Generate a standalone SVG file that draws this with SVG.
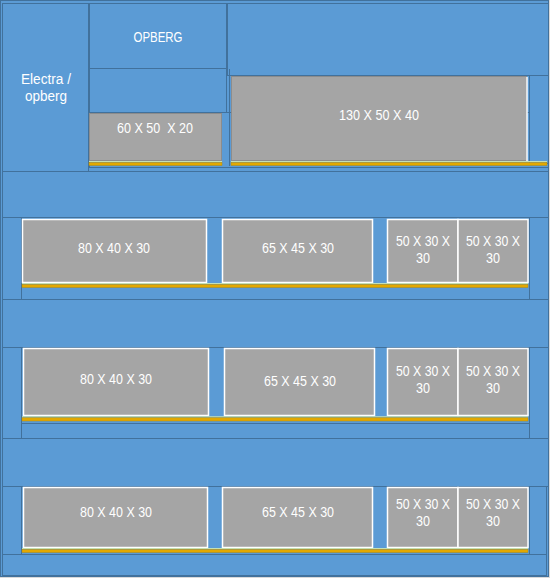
<svg xmlns="http://www.w3.org/2000/svg" width="550" height="578" viewBox="0 0 550 578">
<style>
.b{fill:#5B9BD5;stroke:#41719C;stroke-width:1}
.g{fill:#A5A5A5;stroke:#FFFFFF;stroke-width:1.5}
.gt{fill:#A5A5A5;stroke:#8C8C8C;stroke-width:1}
.gr{stroke:#C5E0B4;stroke-width:1.2;fill:none}
.y{fill:#E3A800;stroke:#B08A10;stroke-width:0.5}
.ln{stroke:#41719C;stroke-width:1;fill:none}
text{font-family:"Liberation Sans",Arial,sans-serif;font-size:14px;fill:#FFFFFF;text-anchor:middle;white-space:pre}
</style>
<rect x="0" y="0" width="550" height="578" fill="#D9D9D9"/>
<rect class="b" x="0.5" y="0.5" width="548" height="576"/>

<g id="top">
  <g id="electra"><rect class="b" x="2.5" y="3.5" width="86" height="168"/>
    <text x="46" y="84" textLength="50" lengthAdjust="spacingAndGlyphs">Electra /</text>
    <text x="46" y="101" textLength="42" lengthAdjust="spacingAndGlyphs">opberg</text></g>
  <g id="opberg"><rect class="b" x="89.5" y="3.5" width="137" height="65"/>
    <text x="158" y="42" textLength="49" lengthAdjust="spacingAndGlyphs">OPBERG</text></g>
  <rect class="b" x="89.5" y="68.5" width="137" height="44"/>
  <rect class="b" x="227.5" y="3.5" width="321" height="72"/>
  <rect class="b" x="89.5" y="112.5" width="459" height="55"/>
  <line class="ln" x1="229.5" y1="69" x2="229.5" y2="166"/>
  <rect class="b" x="529.5" y="75.5" width="19" height="88"/>
  <g id="box-60"><rect class="gt" x="89.5" y="113.5" width="132" height="47"/>
    <text x="155" y="133" textLength="76" lengthAdjust="spacingAndGlyphs" xml:space="preserve">60 X 50  X 20</text></g>
  <g id="box-130"><rect class="gt" x="231.5" y="76.5" width="295" height="84"/>
    <line x1="527" y1="77" x2="527" y2="161" stroke="#fff" stroke-width="1.5"/>
    <text x="379" y="120" textLength="80" lengthAdjust="spacingAndGlyphs">130 X 50 X 40</text></g>
  <line class="gr" x1="89" y1="161.6" x2="222" y2="161.6"/>
  <rect class="y" x="89" y="162.5" width="133" height="3"/>
  <line class="gr" x1="231" y1="161.6" x2="547" y2="161.6"/>
  <rect class="y" x="231" y="162.5" width="316" height="3"/>
</g>

<g id="row1">
  <rect class="b" x="2.5" y="171.5" width="546" height="46"/>
  <rect class="b" x="2.5" y="217.5" width="19" height="82"/>
  <rect class="b" x="21.5" y="217.5" width="508" height="82"/>
  <rect class="b" x="529.5" y="217.5" width="19" height="82"/>
  <g id="r1-80"><rect class="g" x="22.5" y="219.5" width="184" height="63"/>
    <text x="114" y="253" textLength="72" lengthAdjust="spacingAndGlyphs">80 X 40 X 30</text></g>
  <g id="r1-65"><rect class="g" x="222.5" y="219.5" width="150" height="63"/>
    <text x="298" y="253" textLength="72" lengthAdjust="spacingAndGlyphs">65 X 45 X 30</text></g>
  <g id="r1-50a"><rect class="g" x="387.5" y="219.5" width="70.5" height="63"/>
    <text x="423" y="246" textLength="54" lengthAdjust="spacingAndGlyphs">50 X 30 X</text>
    <text x="423" y="263" textLength="14" lengthAdjust="spacingAndGlyphs">30</text></g>
  <g id="r1-50b"><rect class="g" x="458" y="219.5" width="70" height="63"/>
    <text x="493" y="246" textLength="54" lengthAdjust="spacingAndGlyphs">50 X 30 X</text>
    <text x="493" y="263" textLength="14" lengthAdjust="spacingAndGlyphs">30</text></g>
  <line class="gr" x1="22" y1="283.6" x2="528" y2="283.6"/>
  <rect class="y" x="22" y="284.5" width="506" height="3"/>
</g>

<g id="row2">
  <rect class="b" x="2.5" y="299.5" width="546" height="48"/>
  <rect class="b" x="2.5" y="347.5" width="19" height="91"/>
  <rect class="b" x="21.5" y="347.5" width="508" height="76"/>
  <rect class="b" x="529.5" y="347.5" width="19" height="91"/>
  <g id="r2-80"><rect class="g" x="23.5" y="348.5" width="185" height="67"/>
    <text x="116" y="384" textLength="72" lengthAdjust="spacingAndGlyphs">80 X 40 X 30</text></g>
  <g id="r2-65"><rect class="g" x="224.5" y="348.5" width="150" height="67"/>
    <text x="300" y="386" textLength="72" lengthAdjust="spacingAndGlyphs">65 X 45 X 30</text></g>
  <g id="r2-50a"><rect class="g" x="387.5" y="348.5" width="70.5" height="67"/>
    <text x="423" y="376" textLength="54" lengthAdjust="spacingAndGlyphs">50 X 30 X</text>
    <text x="423" y="393" textLength="14" lengthAdjust="spacingAndGlyphs">30</text></g>
  <g id="r2-50b"><rect class="g" x="458" y="348.5" width="70" height="67"/>
    <text x="493" y="376" textLength="54" lengthAdjust="spacingAndGlyphs">50 X 30 X</text>
    <text x="493" y="393" textLength="14" lengthAdjust="spacingAndGlyphs">30</text></g>
  <line class="gr" x1="22" y1="416.8" x2="528" y2="416.8"/>
  <rect class="y" x="22" y="417.8" width="506" height="3.2"/>
</g>

<g id="row3">
  <rect class="b" x="2.5" y="438.5" width="546" height="48"/>
  <rect class="b" x="2.5" y="486.5" width="19" height="68"/>
  <rect class="b" x="21.5" y="486.5" width="508" height="68"/>
  <rect class="b" x="529.5" y="486.5" width="17" height="68"/>
  <g id="r3-80"><rect class="g" x="23.5" y="487.5" width="184" height="60"/>
    <text x="116" y="517" textLength="72" lengthAdjust="spacingAndGlyphs">80 X 40 X 30</text></g>
  <g id="r3-65"><rect class="g" x="222.5" y="487.5" width="150" height="60"/>
    <text x="298" y="517" textLength="72" lengthAdjust="spacingAndGlyphs">65 X 45 X 30</text></g>
  <g id="r3-50a"><rect class="g" x="387.5" y="487.5" width="70.5" height="60"/>
    <text x="423" y="509" textLength="54" lengthAdjust="spacingAndGlyphs">50 X 30 X</text>
    <text x="423" y="526" textLength="14" lengthAdjust="spacingAndGlyphs">30</text></g>
  <g id="r3-50b"><rect class="g" x="458" y="487.5" width="70" height="60"/>
    <text x="493" y="509" textLength="54" lengthAdjust="spacingAndGlyphs">50 X 30 X</text>
    <text x="493" y="526" textLength="14" lengthAdjust="spacingAndGlyphs">30</text></g>
  <line class="gr" x1="22" y1="548.6" x2="528" y2="548.6"/>
  <rect class="y" x="22" y="549.5" width="506" height="3"/>
  <rect class="b" x="2.5" y="554.5" width="544" height="21"/>
</g>
</svg>
